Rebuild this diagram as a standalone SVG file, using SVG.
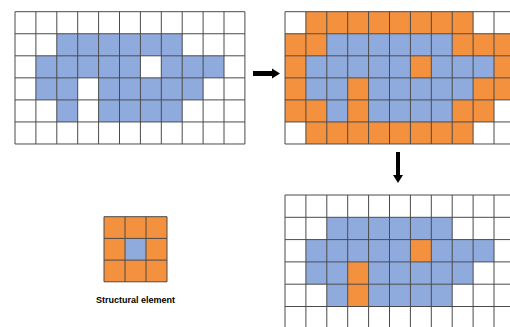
<svg xmlns="http://www.w3.org/2000/svg" width="510" height="327" viewBox="0 0 510 327">
<style>
.b{fill:#8FAADC}
.o{fill:#F4913F}
.g{fill:none;stroke:#4a4a4a;stroke-width:1}
.bg{fill:#fff}
.ar{fill:#000}
.lbl{font-family:"Liberation Sans",Arial,sans-serif;font-size:9px;font-weight:bold;fill:#000}
</style>
<defs>
<path id="grid" class="g" vector-effect="non-scaling-stroke" d="M0 0V6M1 0V6M2 0V6M3 0V6M4 0V6M5 0V6M6 0V6M7 0V6M8 0V6M9 0V6M10 0V6M11 0V6M0 0H11M0 1H11M0 2H11M0 3H11M0 4H11M0 5H11M0 6H11"/>
</defs>
<rect width="510" height="327" fill="#fff"/>
<g id="input-grid" transform="translate(15,11.7) scale(20.9,22.05)">
<rect class="bg" width="11" height="6"/>
<rect class="b" x="2" y="1" width="6" height="1"/>
<rect class="b" x="1" y="2" width="5" height="1"/>
<rect class="b" x="7" y="2" width="3" height="1"/>
<rect class="b" x="1" y="3" width="2" height="1"/>
<rect class="b" x="4" y="3" width="5" height="1"/>
<rect class="b" x="2" y="4" width="1" height="1"/>
<rect class="b" x="4" y="4" width="4" height="1"/>
<use href="#grid"/>
</g>
<g id="dilated-grid" transform="translate(285,11.7) scale(20.9,22.05)">
<rect class="bg" width="11" height="6"/>
<rect class="o" x="1" y="0" width="8" height="1"/>
<rect class="o" x="0" y="1" width="2" height="1"/>
<rect class="o" x="8" y="1" width="3" height="1"/>
<rect class="o" x="0" y="2" width="1" height="1"/>
<rect class="o" x="6" y="2" width="1" height="1"/>
<rect class="o" x="10" y="2" width="1" height="1"/>
<rect class="o" x="0" y="3" width="1" height="1"/>
<rect class="o" x="3" y="3" width="1" height="1"/>
<rect class="o" x="9" y="3" width="2" height="1"/>
<rect class="o" x="0" y="4" width="2" height="1"/>
<rect class="o" x="3" y="4" width="1" height="1"/>
<rect class="o" x="8" y="4" width="2" height="1"/>
<rect class="o" x="1" y="5" width="8" height="1"/>
<rect class="b" x="2" y="1" width="6" height="1"/>
<rect class="b" x="1" y="2" width="5" height="1"/>
<rect class="b" x="7" y="2" width="3" height="1"/>
<rect class="b" x="1" y="3" width="2" height="1"/>
<rect class="b" x="4" y="3" width="5" height="1"/>
<rect class="b" x="2" y="4" width="1" height="1"/>
<rect class="b" x="4" y="4" width="4" height="1"/>
<use href="#grid"/>
</g>
<g id="result-grid" transform="translate(285,195) scale(20.9,22.3)">
<rect class="bg" width="11" height="6"/>
<rect class="b" x="2" y="1" width="6" height="1"/>
<rect class="b" x="1" y="2" width="5" height="1"/>
<rect class="o" x="6" y="2" width="1" height="1"/>
<rect class="b" x="7" y="2" width="3" height="1"/>
<rect class="b" x="1" y="3" width="2" height="1"/>
<rect class="o" x="3" y="3" width="1" height="2"/>
<rect class="b" x="4" y="3" width="5" height="1"/>
<rect class="b" x="2" y="4" width="1" height="1"/>
<rect class="b" x="4" y="4" width="4" height="1"/>
<use href="#grid"/>
</g>
<g id="structural-element">
<g transform="translate(104,216.7) scale(21,21.7)">
<rect class="o" width="3" height="3"/>
<rect class="b" x="1" y="1" width="1" height="1"/>
<path class="g" vector-effect="non-scaling-stroke" d="M0 0V3M1 0V3M2 0V3M3 0V3M0 0H3M0 1H3M0 2H3M0 3H3"/>
</g>
<text class="lbl" x="135.5" y="303" text-anchor="middle">Structural element</text>
</g>
<g id="connectors">
<polygon class="ar" points="253,71 272,71 272,68.5 280,73.5 272,78.5 272,76 253,76"/>
<polygon class="ar" points="396,152 400,152 400,175 403,175 398,183 393,175 396,175"/>
</g>
</svg>
